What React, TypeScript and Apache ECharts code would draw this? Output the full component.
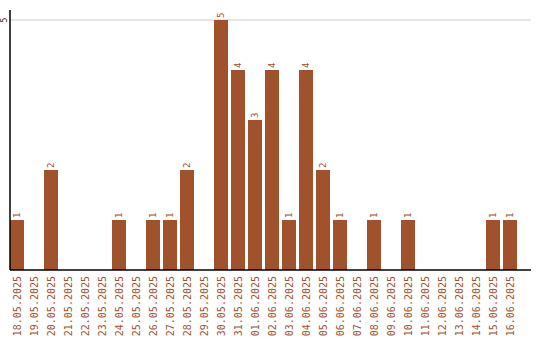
import React, { useEffect, useRef } from "react";
import * as echarts from "echarts";

const categories = [
  "18.05.2025", "19.05.2025", "20.05.2025", "21.05.2025", "22.05.2025",
  "23.05.2025", "24.05.2025", "25.05.2025", "26.05.2025", "27.05.2025",
  "28.05.2025", "29.05.2025", "30.05.2025", "31.05.2025", "01.06.2025",
  "02.06.2025", "03.06.2025", "04.06.2025", "05.06.2025", "06.06.2025",
  "07.06.2025", "08.06.2025", "09.06.2025", "10.06.2025", "11.06.2025",
  "12.06.2025", "13.06.2025", "14.06.2025", "15.06.2025", "16.06.2025",
];
const values = [1, 0, 2, 0, 0, 0, 1, 0, 1, 1, 2, 0, 5, 4, 3, 4, 1, 4, 2, 1, 0, 1, 0, 1, 0, 0, 0, 0, 1, 1];
const yTicks = [5];

const BROWN = "#A0522D";
const FONT = "DejaVu Sans Mono";

export default function App() {
  const ref = useRef<HTMLDivElement>(null);
  useEffect(() => {
    if (!ref.current) return;
    const chart = echarts.init(ref.current, undefined, { renderer: "svg" });
    chart.setOption({
      animation: false,
      grid: { left: 8.5, top: 10, width: 510, height: 260, containLabel: false },
      xAxis: {
        type: "category",
        data: categories,
        axisLine: { show: false },
        axisTick: { show: false },
        axisLabel: {
          rotate: 90,
          interval: 0,
          color: BROWN,
          fontFamily: FONT,
          fontSize: 10,
          margin: 6,
        },
      },
      yAxis: {
        type: "value",
        min: 0,
        max: 5.2,
        interval: yTicks[0],
        axisLine: { show: false },
        axisTick: { show: false },
        splitLine: { show: false },
        axisLabel: {
          showMinLabel: false,
          rotate: 90,
          align: "center",
          verticalAlign: "middle",
          color: "#222",
          fontFamily: FONT,
          fontSize: 8,
          margin: 4.5,
          formatter: (v: number) => (yTicks.includes(v) ? String(v) : ""),
        },
      },
      graphic: [
        { type: "line", shape: { x1: 10, y1: 20, x2: 531, y2: 20 }, style: { stroke: "#cccccc", lineWidth: 1 }, z: 0 },
        { type: "line", shape: { x1: 10, y1: 10, x2: 10, y2: 270 }, style: { stroke: "#000", lineWidth: 1.5 }, z: 10 },
        { type: "line", shape: { x1: 10, y1: 270, x2: 531, y2: 270 }, style: { stroke: "#000", lineWidth: 1.5 }, z: 10 },
      ],
      series: [
        {
          type: "bar",
          data: values,
          barWidth: 14,
          itemStyle: { color: BROWN },
          z: 5,
          label: {
            show: true,
            position: "top",
            rotate: 90,
            align: "left",
            verticalAlign: "middle",
            distance: 2,
            color: BROWN,
            fontFamily: FONT,
            fontSize: 9,
            formatter: (p: any) => (p.value ? String(p.value) : ""),
          },
        },
      ],
    });
    return () => chart.dispose();
  }, []);
  return <div ref={ref} style={{ width: 540, height: 340, position: "absolute", left: 0, top: 0 }} />;
}
